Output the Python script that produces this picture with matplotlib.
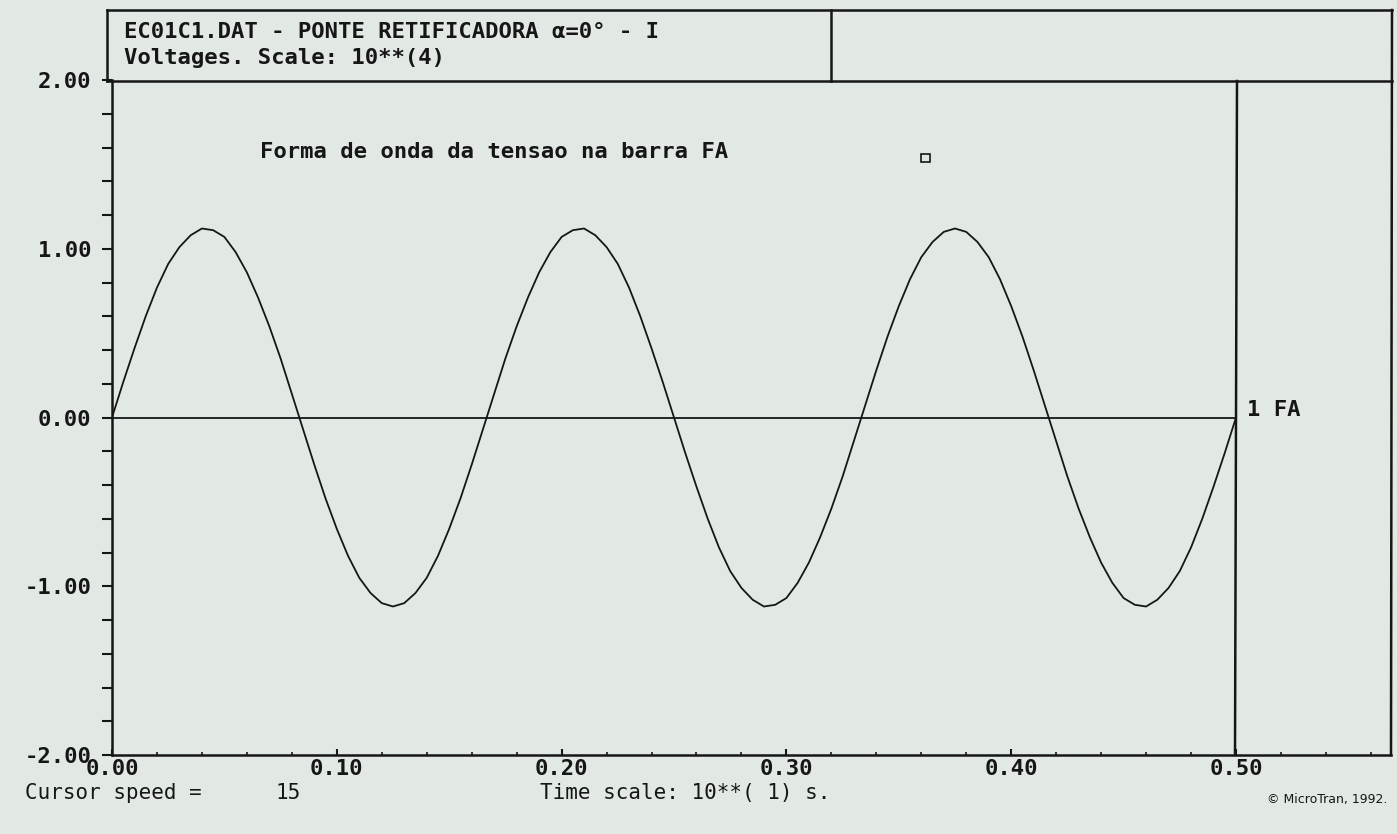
import matplotlib.pyplot as plt
from matplotlib.patches import Rectangle
from matplotlib.ticker import MultipleLocator, FuncFormatter

# values (time in 10**1 s, voltage in 10**4 V)
time = [i * 0.005 for i in range(101)]
voltage = [
    0.00, 0.21, 0.41, 0.60, 0.77, 0.91, 1.01, 1.08, 1.12, 1.11,
    1.07, 0.98, 0.86, 0.71, 0.54, 0.35, 0.14, -0.07, -0.28, -0.48,
    -0.66, -0.82, -0.95, -1.04, -1.10, -1.12, -1.10, -1.04, -0.95, -0.82,
    -0.66, -0.48, -0.28, -0.07, 0.14, 0.35, 0.54, 0.71, 0.86, 0.98,
    1.07, 1.11, 1.12, 1.08, 1.01, 0.91, 0.77, 0.60, 0.41, 0.21,
    0.00, -0.21, -0.41, -0.60, -0.77, -0.91, -1.01, -1.08, -1.12, -1.11,
    -1.07, -0.98, -0.86, -0.71, -0.54, -0.35, -0.14, 0.07, 0.28, 0.48,
    0.66, 0.82, 0.95, 1.04, 1.10, 1.12, 1.10, 1.04, 0.95, 0.82,
    0.66, 0.48, 0.28, 0.07, -0.14, -0.35, -0.54, -0.71, -0.86, -0.98,
    -1.07, -1.11, -1.12, -1.08, -1.01, -0.91, -0.77, -0.60, -0.41, -0.21,
    0.00,
]
x_ticks = [0.0, 0.1, 0.2, 0.3, 0.4, 0.5]
y_ticks = [-2.0, -1.0, 0.0, 1.0, 2.0]

title_1 = "EC01C1.DAT - PONTE RETIFICADORA \u03b1=0\u00b0 - I"
title_2 = "Voltages. Scale: 10**(4)"
caption = "Forma de onda da tensao na barra FA"
trace_label = "1 FA"

BG = '#e2e9e4'
INK = '#161616'
MONO = ['DejaVu Sans Mono']

W, H = 1397, 834
fig = plt.figure(figsize=(W / 100, H / 100), dpi=100, facecolor=BG)

# plot area in pixels: x 112..1391, y 80..755
left, right, top, bottom = 112, 1391, 80, 755
ax = fig.add_axes([left / W, 1 - bottom / H, (right - left) / W, (bottom - top) / H])
ax.set_facecolor(BG)
x_end = 0.5 + (right - 1236) / ((1236 - left) / 0.5)
ax.set_xlim(0, x_end)
ax.set_ylim(-2, 2)

ax.plot(time, voltage, color=INK, lw=1.3, solid_joinstyle='round')
ax.plot([0, 0.5], [0, 0], color=INK, lw=1.3)

for s in ['top', 'right']:
    ax.spines[s].set_visible(False)
for s in ['left', 'bottom']:
    ax.spines[s].set_linewidth(1.8)
    ax.spines[s].set_color(INK)

fmt = FuncFormatter(lambda v, p: f"{v:.2f}")
ax.set_xticks(x_ticks)
ax.set_yticks(y_ticks)
ax.xaxis.set_major_formatter(fmt)
ax.yaxis.set_major_formatter(fmt)
ax.xaxis.set_minor_locator(MultipleLocator(0.02))
ax.yaxis.set_minor_locator(MultipleLocator(0.2))
ax.tick_params(axis='y', which='both', direction='out', length=7, width=1.5,
               color=INK, pad=8)
ax.tick_params(axis='x', which='major', direction='in', length=4, width=1.5,
               color=INK, pad=3)
ax.tick_params(axis='x', which='minor', direction='in', length=2, width=1.2,
               color=INK)
for lab in ax.get_xticklabels() + ax.get_yticklabels():
    lab.set_family(MONO)
    lab.set_fontsize(16)
    lab.set_fontweight('bold')
    lab.set_color(INK)

# overlay in pixel coordinates for the screen frame and texts
ov = fig.add_axes([0, 0, 1, 1])
ov.set_xlim(0, W)
ov.set_ylim(H, 0)
ov.axis('off')
ov.patch.set_alpha(0)

lw = 1.8
ov.plot([107, 1392], [10, 10], color=INK, lw=lw)
ov.plot([107, 1392], [81, 81], color=INK, lw=lw)
ov.plot([107, 107], [10, 81], color=INK, lw=lw)
ov.plot([831, 831], [10, 81], color=INK, lw=lw)
ov.plot([1392, 1391], [10, 755], color=INK, lw=lw)
ov.plot([1237, 1235], [81, 755], color=INK, lw=lw)

ov.text(124, 32, title_1, family=MONO, fontsize=16, fontweight='bold',
        color=INK, va='center', ha='left')
ov.text(124, 58, title_2, family=MONO, fontsize=16, fontweight='bold',
        color=INK, va='center', ha='left')
ov.text(260, 152, caption, family=MONO, fontsize=16, fontweight='bold',
        color=INK, va='center', ha='left')
ov.add_patch(Rectangle((921, 154), 9, 8, fill=False, ec=INK, lw=1.2))
ov.text(1247, 410, trace_label, family=MONO, fontsize=16, fontweight='bold',
        color=INK, va='center', ha='left')

ov.text(25, 793, "Cursor speed =", family=MONO, fontsize=15, color=INK,
        va='center', ha='left')
ov.text(275, 793, "15", family=MONO, fontsize=15, color=INK,
        va='center', ha='left')
ov.text(540, 793, "Time scale: 10**( 1) s.", family=MONO, fontsize=15,
        color=INK, va='center', ha='left')
ov.text(1387, 799, "\u00a9 MicroTran, 1992.", family=['DejaVu Sans'],
        fontsize=9, color=INK, va='center', ha='right')

fig.savefig('out.png', dpi=100, facecolor=BG)
